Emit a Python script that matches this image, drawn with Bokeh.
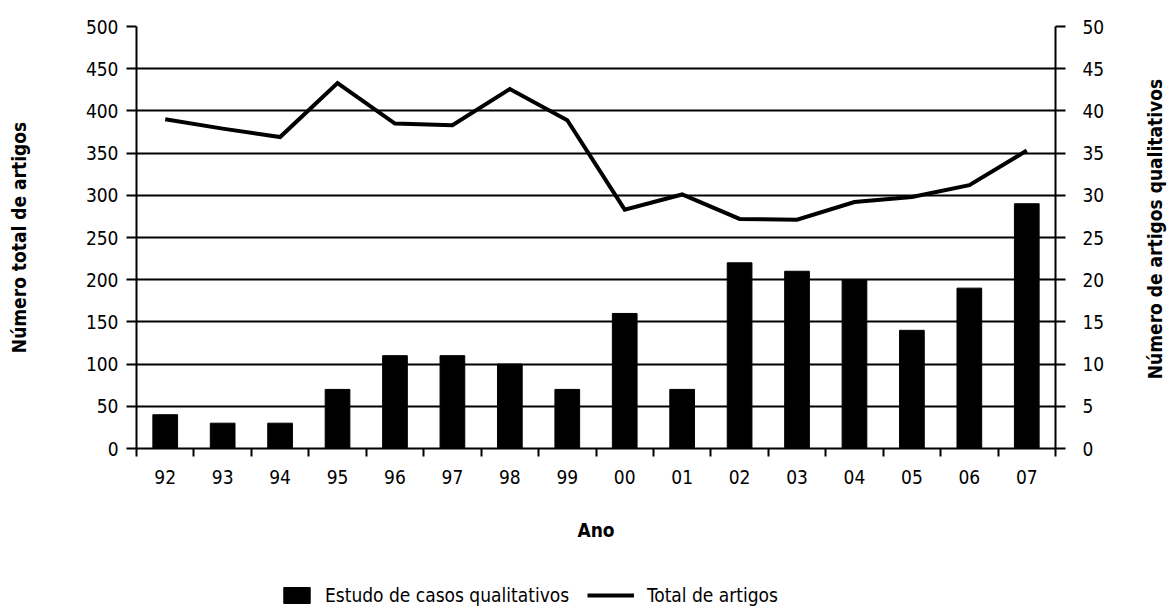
import math
import numpy as np
from bokeh.plotting import figure
from bokeh.layouts import gridplot
from bokeh.models import (Range1d, LinearAxis, FixedTicker, SingleIntervalTicker,
                          Legend, LegendItem, ColumnDataSource, Label)
from bokeh.embed import file_html
from bokeh.resources import INLINE

years = ["92", "93", "94", "95", "96", "97", "98", "99",
         "00", "01", "02", "03", "04", "05", "06", "07"]
qualitativos = [4, 3, 3, 7, 11, 11, 10, 7, 16, 7, 22, 21, 20, 14, 19, 29]
total_artigos = [390, 379, 369, 433, 385, 383, 426, 389,
                 283, 301, 272, 271, 292, 298, 312, 353]

FONT = "DejaVu Sans Condensed"
FS = "19px"

xc = np.arange(len(years)) + 0.5
src = ColumnDataSource(dict(x=xc, q=qualitativos, t=total_artigos))

p = figure(width=1115, height=566, output_backend="svg", toolbar_location=None,
           x_range=Range1d(0, len(years)), y_range=Range1d(0, 500),
           min_border_left=136, min_border_right=60, min_border_top=26,
           min_border_bottom=118)
p.extra_y_ranges = {"right": Range1d(0, 50)}
p.outline_line_color = None

bar_style = dict(fill_color="black", line_color="black")
line_style = dict(line_color="black", line_width=4, line_join="miter")

bars = p.vbar(x="x", top="q", width=0.43, source=src, y_range_name="right", **bar_style)
line = p.line(x="x", y="t", source=src, **line_style)

# grid
p.xgrid.grid_line_color = None
p.ygrid.grid_line_color = "black"
p.ygrid.grid_line_width = 2
p.ygrid.ticker = SingleIntervalTicker(interval=50)


def style_axis(ax, label, standoff):
    ax.axis_label = label
    ax.axis_label_text_font = FONT
    ax.axis_label_text_font_style = "bold"
    ax.axis_label_text_font_size = FS
    ax.axis_label_text_color = "black"
    ax.axis_label_standoff = standoff
    ax.major_label_text_font = FONT
    ax.major_label_text_font_size = FS
    ax.major_label_text_color = "black"
    ax.axis_line_color = "black"
    ax.axis_line_width = 2


# left axis
ya = p.yaxis[0]
ya.ticker = SingleIntervalTicker(interval=50)
style_axis(ya, "Número total de artigos", 53)
ya.major_label_standoff = 8
ya.major_tick_line_color = "black"
ya.major_tick_line_width = 2
ya.major_tick_out = 10
ya.major_tick_in = 0
ya.minor_tick_line_color = None

# right axis
ra = LinearAxis(y_range_name="right", ticker=SingleIntervalTicker(interval=5))
style_axis(ra, None, 0)
ra.major_label_standoff = 17
ra.major_tick_line_color = "black"
ra.major_tick_line_width = 2
ra.major_tick_out = 10
ra.major_tick_in = 0
ra.minor_tick_line_color = None
p.add_layout(ra, "right")

# x axis
xa = p.xaxis[0]
xa.ticker = FixedTicker(ticks=list(xc), minor_ticks=list(range(len(years) + 1)))
xa.major_label_overrides = {float(c): y for c, y in zip(xc, years)}
style_axis(xa, "Ano", 32)
xa.major_tick_line_color = None
xa.major_tick_out = 0
xa.major_tick_in = 0
xa.minor_tick_line_color = "black"
xa.minor_tick_line_width = 2
xa.minor_tick_out = 8
xa.minor_tick_in = 0
xa.major_label_standoff = 13

# right title strip: a narrow figure holding the rotated title (reads bottom-to-top)
rf = figure(width=55, height=566, output_backend="svg", toolbar_location=None,
            x_axis_location=None, y_axis_location=None,
            x_range=Range1d(0, 1), y_range=Range1d(0, 500),
            min_border_left=0, min_border_right=0, min_border_top=0, min_border_bottom=0)
rf.outline_line_color = None
rf.xgrid.grid_line_color = None
rf.ygrid.grid_line_color = None
rf.add_layout(Label(x=39, y=260, x_units="screen", y_units="data",
                    text="Número de artigos qualitativos", angle=math.pi / 2,
                    text_align="center", text_baseline="middle",
                    text_font=FONT, text_font_style="bold", text_font_size=FS,
                    text_color="black"))

# legend strip below the chart; its glyphs share the chart's source but fall
# well below this strip's visible range, so only the legend entries show
lf = figure(width=1115, height=40, output_backend="svg", toolbar_location=None,
            x_axis_location=None, y_axis_location=None,
            x_range=Range1d(0, len(years)), y_range=Range1d(1000, 2000),
            min_border_left=0, min_border_right=0, min_border_top=0, min_border_bottom=0)
lf.outline_line_color = None
lf.xgrid.grid_line_color = None
lf.ygrid.grid_line_color = None
lbars = lf.vbar(x="x", top="q", width=0.43, source=src, **bar_style)
lline = lf.line(x="x", y="t", source=src, **line_style)

common = dict(padding=0, margin=0, border_line_color=None, background_fill_alpha=0,
              label_text_font=FONT, label_text_font_size=FS, label_text_color="black",
              glyph_height=20, label_height=20, orientation="horizontal")
leg1 = Legend(items=[LegendItem(label="Estudo de casos qualitativos", renderers=[lbars])],
              location=(144, 0), glyph_width=33, label_standoff=12, **common)
leg2 = Legend(items=[LegendItem(label="Total de artigos", renderers=[lline])],
              location=(451, 0), glyph_width=47, label_standoff=13, **common)
lf.add_layout(leg1)
lf.add_layout(leg2)

layout = gridplot([[p, rf], [lf, None]], toolbar_location=None)
open("out.html", "w").write(file_html(layout, INLINE))
